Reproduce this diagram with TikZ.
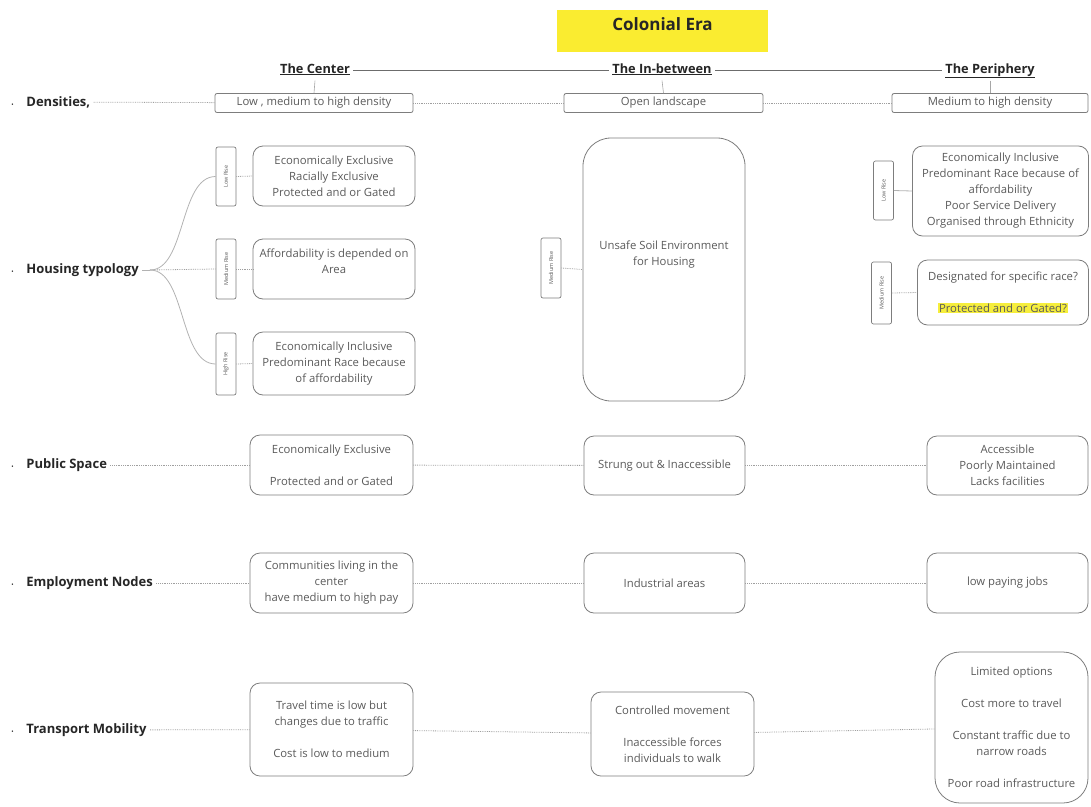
\documentclass[tikz,border=0pt]{standalone}
\usepackage{fontspec}
\setmainfont{Open Sans}
\usepackage{xcolor}
\usepackage{tikz}

\definecolor{boxline}{RGB}{125,125,125}
\definecolor{boxtext}{RGB}{90,90,90}
\definecolor{erayellow}{RGB}{250,236,48}
\definecolor{hiyellow}{RGB}{246,238,60}

\begin{document}
\begin{tikzpicture}[x=1pt, y=-1pt,
  box/.style={draw=boxline, line width=0.8pt, rounded corners=10pt, align=center,
    font=\fontsize{11.3}{16}\selectfont, text=boxtext, inner sep=2pt},
  dbox/.style={draw=boxline, line width=0.8pt, rounded corners=2pt,
    font=\fontsize{11.3}{12}\selectfont, text=boxtext, minimum height=19pt, inner sep=1pt},
  tag/.style={draw=boxline, line width=0.7pt, rounded corners=2pt, rotate=90,
    font=\fontsize{5.5}{6}\selectfont, text=boxtext, minimum height=20pt, inner sep=1pt},
  row/.style={anchor=west, font=\bfseries\fontsize{13}{15}\selectfont, text=black!85},
  head/.style={font=\bfseries\fontsize{12.8}{15}\selectfont, text=black!85,
    text height=10pt, text depth=4pt},
  link/.style={draw=gray!75, densely dotted, line width=0.8pt},
  hline/.style={draw=gray!85!black, line width=0.8pt},
  vline/.style={draw=gray!70, line width=0.6pt},
  fanline/.style={draw=gray!60, line width=0.8pt}
]
\useasboundingbox (0,0) rectangle (1091,806);

% title
\fill[erayellow] (557,10) rectangle (768,52);
\node[font=\bfseries\fontsize{17}{19}\selectfont, text=black!85] (era) at (662.5,24) {Colonial Era};

% column heads
\node[head] (hc) at (315,70) {\underline{The Center}};
\node[head] (hm) at (662,70) {\underline{The In-between}};
\node[head] (hp) at (990,70) {\underline{The Periphery}};
\draw[hline] (hc.east) -- (hm.west);
\draw[hline] (hm.east) -- (hp.west);

% densities
\node[row] (den) at (8,102) {{\tiny\textbullet}\hspace{13pt}Densities,};
\node[dbox, minimum width=198pt] (cden) at (314,103) {Low , medium to high density};
\node[dbox, minimum width=199pt] (mden) at (663.5,103) {Open landscape};
\node[dbox, minimum width=196pt] (pden) at (990,103) {Medium to high density};
\draw[vline] (hc.south) -- (cden.north);
\draw[vline] (hm.south) -- (mden.north);
\draw[vline] (hp.south) -- (pden.north);
\draw[link] (den) -- (cden);
\draw[link] (cden) -- (mden);
\draw[link] (mden) -- (pden);

% housing typology
\node[row] (hou) at (8,270) {{\tiny\textbullet}\hspace{13pt}Housing typology};
\coordinate (fan) at (150,270);
\draw[fanline] (hou.east) -- (fan);

\node[tag, minimum width=59pt] (clow) at (226,176.5) {Low Rise};
\node[tag, minimum width=60pt] (cmed) at (226,269) {Medium Rise};
\node[tag, minimum width=62pt] (chigh) at (226,364) {High Rise};
\node[box, minimum width=162pt, minimum height=60pt] (clowb) at (334,176)
  {Economically Exclusive\\Racially Exclusive\\Protected and or Gated};
\node[box, minimum width=162pt, minimum height=60pt] (cmedb) at (334,269)
  {Affordability is depended on\\Area\\~};
\node[box, minimum width=162pt, minimum height=63pt] (chighb) at (334,363.5)
  {Economically Inclusive\\Predominant Race because\\of affordability};
\draw[fanline] (fan) .. controls (186,270) and (179,176.5) .. (clow.north);
\draw[link] (fan) -- (cmed.north);
\draw[fanline] (fan) .. controls (186,270) and (179,364) .. (chigh.north);
\draw[link] (clow.south) -- (clowb.west);
\draw[link] (cmed.south) -- (cmedb.west);
\draw[link] (chigh.south) -- (chighb.west);

\node[tag, minimum width=60pt] (mmed) at (551,268) {Medium Rise};
\node[box, rounded corners=28pt, minimum width=162pt, minimum height=263pt] (mmedb) at (664,269.5)
  {Unsafe Soil Environment\\for Housing\\~\\~};
\draw[link] (mmed.south) -- (mmedb.west);

\node[tag, minimum width=59pt] (plow) at (883.5,190.5) {Low Rise};
\node[box, minimum width=176pt, minimum height=90pt] (plowb) at (1000.5,191)
  {Economically Inclusive\\Predominant Race because of\\affordability\\Poor Service Delivery\\Organised through Ethnicity};
\draw[fanline] (plow.south) -- (plowb.west);
\node[tag, minimum width=62pt] (pmed) at (881.5,293) {Medium Rise};
\node[box, minimum width=171pt, minimum height=65pt] (pmedb) at (1003,292.5)
  {Designated for specific race?\\~\\{\setlength{\fboxsep}{1pt}\colorbox{hiyellow}{Protected and or Gated?}}};
\draw[link] (pmed.south) -- (pmedb.west);

% public space
\node[row] (pub) at (8,465) {{\tiny\textbullet}\hspace{13pt}Public Space};
\node[box, minimum width=163pt, minimum height=60pt] (cpub) at (331.5,465)
  {Economically Exclusive\\~\\Protected and or Gated};
\node[box, minimum width=161pt, minimum height=59pt] (mpub) at (664.5,465.5)
  {Strung out \& Inaccessible};
\node[box, minimum width=161pt, minimum height=59pt] (ppub) at (1007.5,465.5)
  {Accessible\\Poorly Maintained\\Lacks facilities};
\draw[link] (pub) -- (cpub);
\draw[link] (cpub) -- (mpub);
\draw[link] (mpub) -- (ppub);

% employment nodes
\node[row] (emp) at (8,583) {{\tiny\textbullet}\hspace{13pt}Employment Nodes};
\node[box, minimum width=163pt, minimum height=60pt] (cemp) at (331.5,583)
  {Communities living in the\\center\\have medium to high pay};
\node[box, minimum width=161pt, minimum height=60pt] (memp) at (664.5,583)
  {Industrial areas};
\node[box, minimum width=161pt, minimum height=60pt] (pemp) at (1007.5,583)
  {low paying jobs};
\draw[link] (emp) -- (cemp);
\draw[link] (cemp) -- (memp);
\draw[link] (memp) -- (pemp);

% transport mobility
\node[row] (tra) at (8,730) {{\tiny\textbullet}\hspace{13pt}Transport Mobility};
\node[box, minimum width=163pt, minimum height=93pt] (ctra) at (331.5,729.5)
  {Travel time is low but\\changes due to traffic\\~\\Cost is low to medium};
\node[box, minimum width=163pt, minimum height=84pt] (mtra) at (672.5,734)
  {Controlled movement\\~\\Inaccessible forces\\individuals to walk};
\node[box, rounded corners=25pt, minimum width=153pt, minimum height=151pt] (ptra) at (1011.5,727.5)
  {Limited options\\~\\Cost more to travel\\~\\Constant traffic due to\\narrow roads\\~\\Poor road infrastructure};
\draw[link] (tra) -- (ctra);
\draw[link] (ctra) -- (mtra);
\draw[link] (mtra) -- (ptra);
\end{tikzpicture}
\end{document}
